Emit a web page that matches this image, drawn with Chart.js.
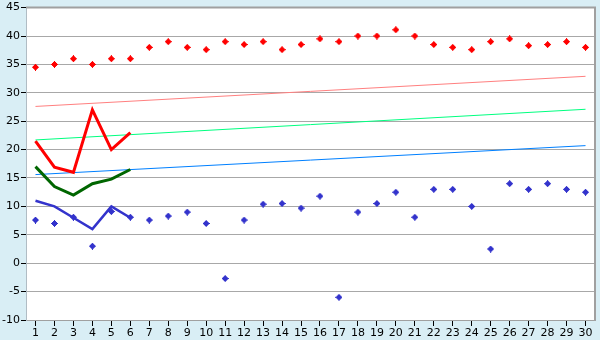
<!DOCTYPE html>
<html>
<head>
<meta charset="utf-8">
<script src="https://cdn.jsdelivr.net/npm/chart.js@4/dist/chart.umd.min.js"></script>
<style>
html,body{margin:0;padding:0;background:#d9eef5;}
canvas{display:block;}
</style>
</head>
<body>
<canvas id="c" width="600" height="340"></canvas>
<script>
const days = ['1','2','3','4','5','6','7','8','9','10','11','12','13','14','15','16','17','18','19','20','21','22','23','24','25','26','27','28','29','30'];
const maxPoints = [34.5,35,36,35,36,36,38,39,38,37.6,39,38.5,39,37.6,38.5,39.5,39,40,40,41.1,40,38.5,38,37.6,39,39.5,38.3,38.5,39,38];
const minPoints = [7.6,7,8.1,3,9.1,8.1,7.6,8.3,9,7,-2.7,7.6,10.4,10.5,9.7,11.8,-6,9,10.5,12.5,8.1,13,13,10,2.5,14,13,14,13,12.5];
const maxLine = [21.5,16.9,16,27,20,23];
const meanLine = [17,13.5,12,14,14.8,16.5];
const minLine = [11,10,8,6,10,8];
const trendMax = [27.6,32.9];
const trendMean = [21.7,27.1];
const trendMin = [15.6,20.7];
const yTicks = [-10,-5,0,5,10,15,20,25,30,35,40,45];

function marker(color){
  const c=document.createElement('canvas');c.width=7;c.height=7;
  const g=c.getContext('2d');g.fillStyle=color;
  g.fillRect(2,1,3,5);g.fillRect(1,2,5,3);g.fillRect(3,0,1,7);g.fillRect(0,3,7,1);
  return c;
}
function trend(v){return [{x:days[0],y:v[0]},{x:days[days.length-1],y:v[1]}];}

const bg={id:'bg',
  beforeDraw(ch){const g=ch.ctx,a=ch.chartArea;g.save();g.fillStyle='#d9eef5';g.fillRect(0,0,ch.width,ch.height);g.fillStyle='#ffffff';g.fillRect(a.left,a.top,a.right-a.left,a.bottom-a.top);g.restore();},
  afterDraw(ch){const g=ch.ctx,a=ch.chartArea;g.save();g.strokeStyle='#a0a0a0';g.lineWidth=2;g.beginPath();g.moveTo(a.left,a.top);g.lineTo(a.right,a.top);g.lineTo(a.right,a.bottom);g.stroke();g.restore();}
};

new Chart(document.getElementById('c'),{
  type:'line',
  data:{labels:days,datasets:[
    {data:trend(trendMax),borderColor:'#ff8080',borderWidth:1,pointRadius:0,fill:false,order:9},
    {data:trend(trendMean),borderColor:'#00ff80',borderWidth:1,pointRadius:0,fill:false,order:8},
    {data:trend(trendMin),borderColor:'#0080ff',borderWidth:1,pointRadius:0,fill:false,order:7},
    {data:maxLine,borderColor:'#ff0000',borderWidth:3,pointRadius:0,fill:false,order:6},
    {data:meanLine,borderColor:'#006600',borderWidth:3,pointRadius:0,fill:false,order:5},
    {data:minLine,borderColor:'#3333cc',borderWidth:2.5,pointRadius:0,fill:false,order:4},
    {data:maxPoints,showLine:false,pointStyle:marker('#ff0000'),pointRadius:3.5,order:2},
    {data:minPoints,showLine:false,pointStyle:marker('#3333cc'),pointRadius:3.5,order:1}
  ]},
  options:{
    responsive:false,animation:false,
    layout:{padding:{top:5,right:5,left:0,bottom:0}},
    plugins:{legend:{display:false},tooltip:{enabled:false}},
    elements:{line:{tension:0}},
    scales:{
      x:{type:'category',offset:true,
        grid:{display:true,drawOnChartArea:false,offset:false,tickLength:6,tickColor:'#000000',tickWidth:1},
        border:{display:true,color:'#a0a0a0'},
        ticks:{color:'#000000',font:{family:'DejaVu Sans',size:11},padding:1,maxRotation:0,autoSkip:false},
        afterFit(s){s.height=20;}
      },
      y:{type:'linear',min:-10,max:45,
        afterBuildTicks(s){s.ticks=yTicks.map(v=>({value:v}));},
        grid:{color:'#a8a8a8',tickLength:5,tickColor:'#000000'},
        border:{display:true,color:'#b0bcc4'},
        ticks:{color:'#000000',font:{family:'DejaVu Sans',size:11},padding:1},
        afterFit(s){s.width=26;}
      }
    }
  },
  plugins:[bg]
});
</script>
</body>
</html>
